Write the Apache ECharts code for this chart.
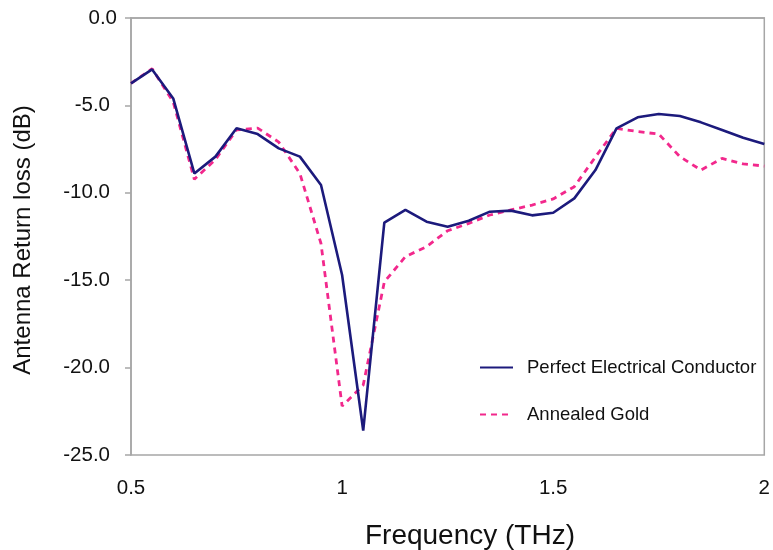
<!DOCTYPE html>
<html>
<head>
<meta charset="utf-8">
<script src="https://cdn.jsdelivr.net/npm/echarts@6/dist/echarts.min.js"></script>
<style>html,body{margin:0;padding:0;background:#fff;}#c{width:773px;height:550px;}</style>
</head>
<body>
<div id="c"></div>
<script>
var freq = [0.5,0.55,0.6,0.65,0.7,0.75,0.8,0.85,0.9,0.95,1.0,1.05,1.1,1.15,1.2,1.25,1.3,1.35,1.4,1.45,1.5,1.55,1.6,1.65,1.7,1.75,1.8,1.85,1.9,1.95,2.0];
var pec = [-3.74,-2.94,-4.6,-8.89,-7.93,-6.31,-6.64,-7.46,-7.93,-9.55,-14.7,-23.6,-11.71,-10.98,-11.65,-11.94,-11.6,-11.08,-11.02,-11.29,-11.14,-10.32,-8.7,-6.31,-5.68,-5.49,-5.61,-5.97,-6.41,-6.85,-7.21];
var gold = [-3.74,-2.9,-4.8,-9.23,-8.1,-6.4,-6.3,-7.1,-8.9,-12.9,-22.2,-21.0,-15.1,-13.65,-13.08,-12.17,-11.75,-11.27,-10.98,-10.7,-10.35,-9.65,-7.95,-6.31,-6.5,-6.64,-7.93,-8.7,-8.03,-8.35,-8.47];
var seriesNames = ['Perfect Electrical Conductor','Annealed Gold'];
var xTitle = 'Frequency (THz)';
var yTitle = 'Antenna Return loss (dB)';

function pairs(ys){ return freq.map(function(f,i){ return [f, ys[i]]; }); }

var chart = echarts.init(document.getElementById('c'), null, {renderer:'canvas'});
var font = 'Liberation Sans, Arial, sans-serif';
chart.setOption({
  animation: false,
  backgroundColor: '#fff',
  grid: {left:131, top:18, width:637, height:437, show:true, borderColor:'#a6a6a6', borderWidth:1.5, backgroundColor:'transparent'},
  xAxis: {
    type:'value', min:0.5, max:2, interval:0.5,
    axisLine:{show:true, lineStyle:{color:'#a6a6a6', width:1.5}},
    axisTick:{show:false},
    splitLine:{show:false},
    axisLabel:{color:'#111', fontFamily:font, fontSize:20.5, margin:23, formatter:function(v){return String(v);}}
  },
  yAxis: {
    type:'value', min:-25, max:0, interval:5,
    axisLine:{show:true, lineStyle:{color:'#a6a6a6', width:1.5}},
    axisTick:{show:true, inside:false, length:6, lineStyle:{color:'#a6a6a6', width:1.5}},
    splitLine:{show:false},
    axisLabel:{color:'#111', fontFamily:font, fontSize:20.5, margin:14,
      formatter:function(v){ return v === 0 ? '0.0' : '{n|' + v.toFixed(1) + '}'; },
      rich:{n:{fontFamily:font, fontSize:20.5, color:'#111', padding:[0,7,0,0]}}
    }
  },
  legend: {
    orient:'vertical', left:474, top:353, itemWidth:33, itemHeight:14, itemGap:28,
    itemStyle:{opacity:0},
    textStyle:{fontFamily:font, fontSize:18.5, color:'#111', padding:[0,0,0,9]},
    data: seriesNames
  },
  graphic: [
    {type:'text', x:470, y:536, style:{text:xTitle, font:'28px Liberation Sans, Arial, sans-serif', fill:'#111', textAlign:'center', textVerticalAlign:'middle'}},
    {type:'text', rotation:Math.PI/2, x:23, y:240, style:{text:yTitle, font:'24px Liberation Sans, Arial, sans-serif', fill:'#111', textAlign:'center', textVerticalAlign:'middle'}}
  ],
  series: [
    {name:seriesNames[0], type:'line', data:pairs(pec), symbol:'none', color:'#1c1a7c', lineStyle:{color:'#1c1a7c', width:2.6}, z:3},
    {name:seriesNames[1], type:'line', data:pairs(gold), symbol:'none', color:'#f2288c', lineStyle:{color:'#f2288c', width:2.8, type:[6,5]}, z:2}
  ]
});
</script>
</body>
</html>
